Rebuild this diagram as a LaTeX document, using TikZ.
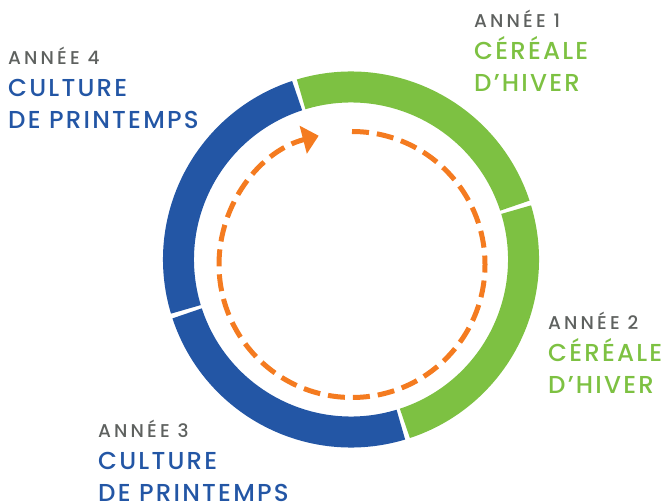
\documentclass[tikz,border=0pt]{standalone}
\usepackage{fontspec}
\setmainfont{Poppins}
\newfontfamily\yearfont{Poppins}[UprightFont=* Medium, LetterSpace=17]
\newfontfamily\cropfont{Poppins}[UprightFont=* Medium, LetterSpace=9]
\usetikzlibrary{arrows.meta,positioning}
\definecolor{ringblue}{HTML}{2356A5}
\definecolor{ringgreen}{HTML}{7DC142}
\definecolor{rotorange}{HTML}{F47B20}
\definecolor{yeargrey}{HTML}{5E615F}

\begin{document}
\begin{tikzpicture}[x=1pt,y=1pt,
  ring/.style={line width=31pt},
  rotarrow/.style={rotorange, line width=5pt, dash pattern=on 17pt off 8pt,
    -{Triangle[length=16pt,width=28pt]}},
  year/.style={yeargrey, font=\yearfont\fontsize{18.5}{18.5}\selectfont, inner sep=0pt, anchor=base west},
  crop/.style={font=\cropfont\fontsize{24.5}{24.5}\selectfont, inner sep=0pt, anchor=base west}]
  \useasboundingbox (0,0) rectangle (671,501);
  \coordinate (ringctr) at (351,241.5);
  \coordinate (rotctr) at (352,236.5);
  % the four years of the ring
  \draw[ring, ringgreen] (ringctr) ++(18.2:172.5) arc[start angle=18.2, end angle=106.8, radius=172.5];
  \draw[ring, ringgreen] (ringctr) ++(-71.8:172.5) arc[start angle=-71.8, end angle=16.8, radius=172.5];
  \draw[ring, ringblue] (ringctr) ++(198.2:172.5) arc[start angle=198.2, end angle=286.8, radius=172.5];
  \draw[ring, ringblue] (ringctr) ++(108.2:172.5) arc[start angle=108.2, end angle=196.8, radius=172.5];
  % rotation
  \draw[rotarrow] (rotctr) ++(90:133) arc[start angle=90, end angle=-255.5, radius=133];
  % labels
  \node[year] (an1) at (474,473) {ANNÉE 1};
  \node[crop, ringgreen] (cer1) at ([yshift=-32pt]an1.base west) {CÉRÉALE};
  \node[crop, ringgreen] (hiv1) at ([yshift=-32pt]cer1.base west) {D’HIVER};
  \node[year] (an2) at (548,172) {ANNÉE 2};
  \node[crop, ringgreen] (cer2) at ([yshift=-32pt]an2.base west) {CÉRÉALE};
  \node[crop, ringgreen] (hiv2) at ([yshift=-32pt]cer2.base west) {D’HIVER};
  \node[year] (an3) at (98,64) {ANNÉE 3};
  \node[crop, ringblue] (cul3) at ([yshift=-32pt]an3.base west) {CULTURE};
  \node[crop, ringblue] (pri3) at ([yshift=-32pt]cul3.base west) {DE PRINTEMPS};
  \node[year] (an4) at (8,436) {ANNÉE 4};
  \node[crop, ringblue] (cul4) at ([yshift=-32pt]an4.base west) {CULTURE};
  \node[crop, ringblue] (pri4) at ([yshift=-32pt]cul4.base west) {DE PRINTEMPS};
\end{tikzpicture}
\end{document}
